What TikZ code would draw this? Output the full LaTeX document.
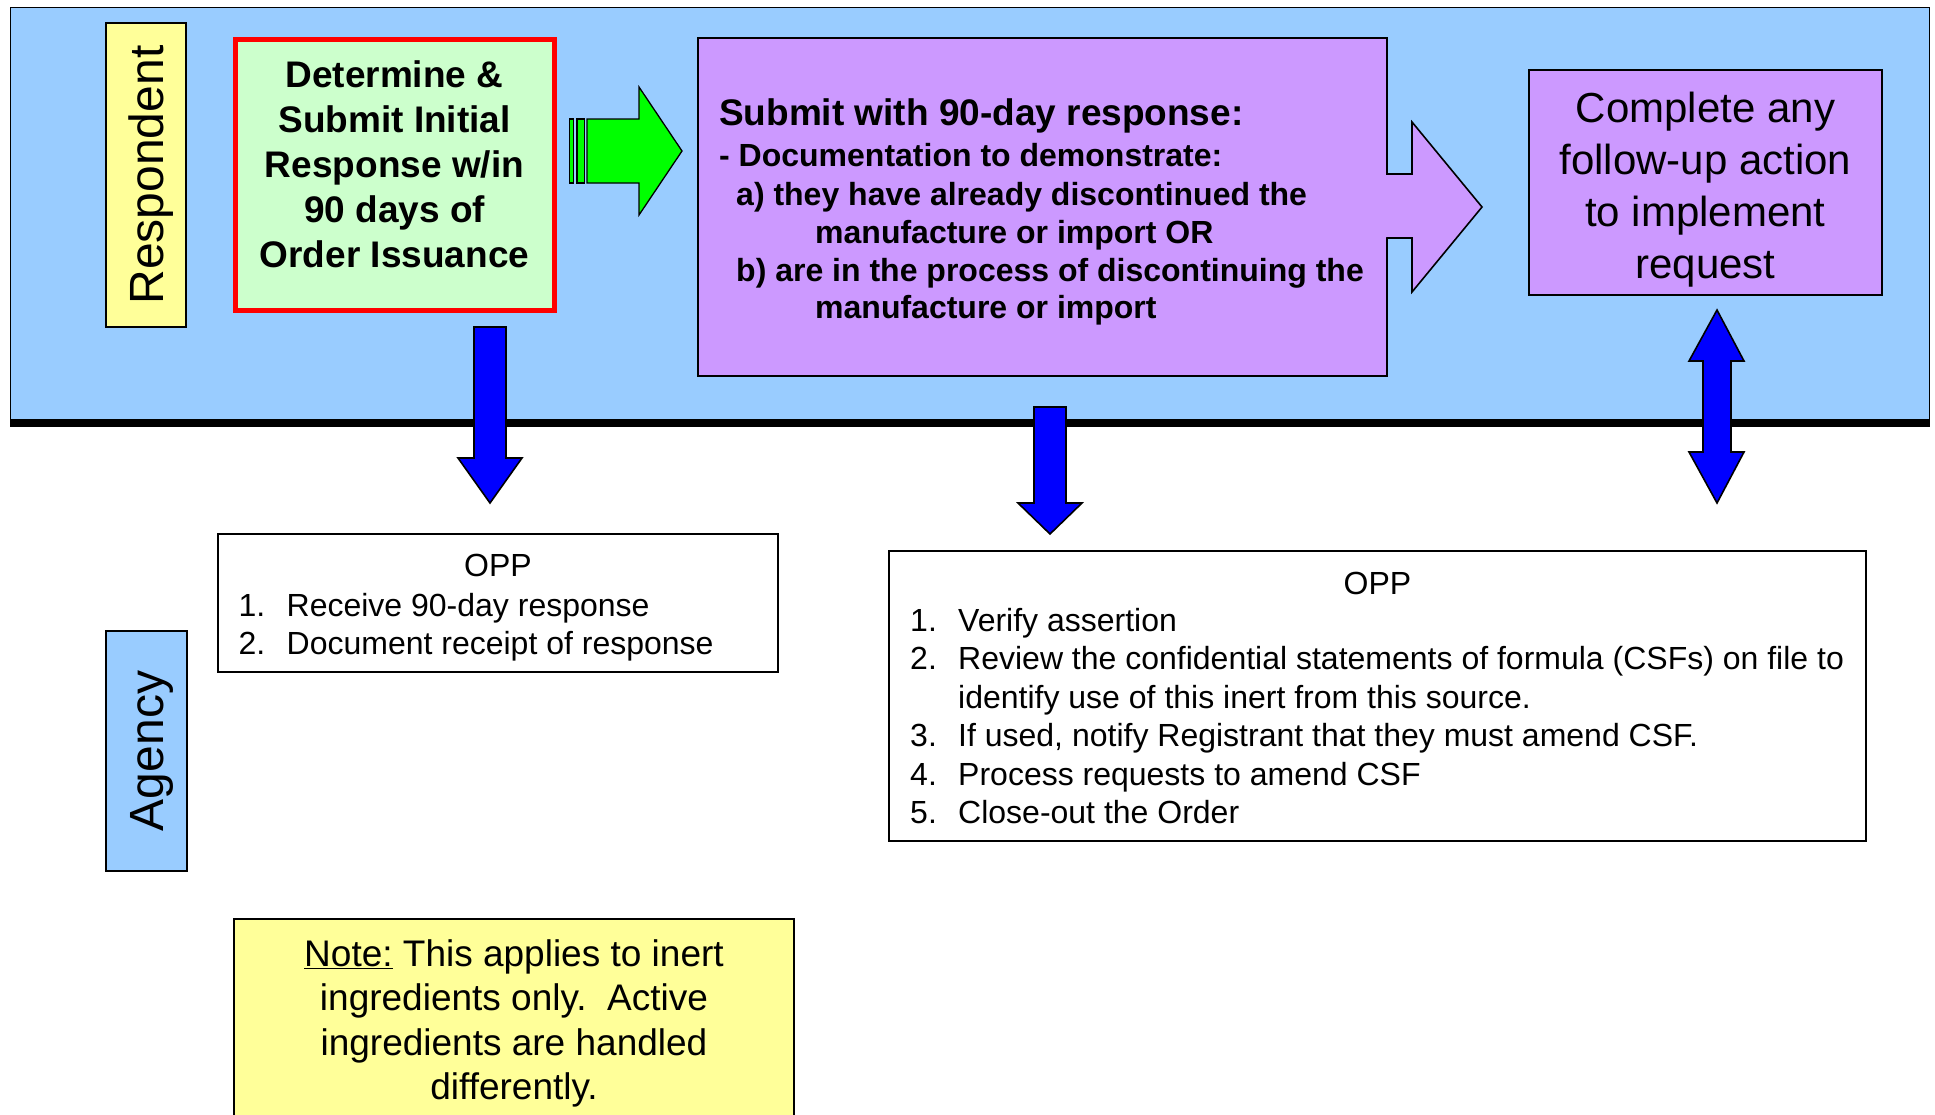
\documentclass[tikz,border=0pt]{standalone}
\usepackage{fontspec}
\setmainfont{Liberation Sans}
\definecolor{bandblue}{HTML}{99CCFF}
\definecolor{lyellow}{HTML}{FFFF99}
\definecolor{lgreen}{HTML}{CCFFCC}
\definecolor{brgreen}{HTML}{00FF00}
\definecolor{lpurple}{HTML}{CC99FF}
\definecolor{pblue}{HTML}{0000FF}
\begin{document}
\begin{tikzpicture}[x=1pt,y=-1pt,
  boxstyle/.style={draw=black, line width=1.6pt, inner sep=0pt, outer sep=0pt},
  outl/.style={draw=black, line width=1.6pt, line join=miter},
  bluearrow/.style={outl, fill=pblue},
  sz32/.style={font=\fontsize{32}{38}\selectfont, inner sep=0pt},
  sz32b/.style={font=\fontsize{32}{38}\selectfont\bfseries, inner sep=0pt},
]
\useasboundingbox (0,0) rectangle (1935,1114);
\fill[white] (0,0) rectangle (1935,1114);

% Respondent band
\node[draw=black, line width=1pt, fill=bandblue, inner sep=0pt, minimum width=1919pt, minimum height=412pt] (band) at (970,213) {};
\fill[black] (10,419) rectangle (1930,427);

% Lane labels
\node[boxstyle, fill=lyellow, minimum width=80pt, minimum height=304pt] (resp) at (146,175) {};
\node[rotate=90, anchor=base, inner sep=0pt, font=\fontsize{48}{56}\selectfont] (resptxt) at (163,175) {Respondent};

\node[boxstyle, fill=bandblue, minimum width=81pt, minimum height=240pt] (agency) at (146.5,751) {};
\node[rotate=90, anchor=base, inner sep=0pt, font=\fontsize{48}{56}\selectfont] (agencytxt) at (163.5,751) {Agency};

% Green box
\node[draw=red, line width=5pt, fill=lgreen, inner sep=0pt, minimum width=319pt, minimum height=271pt] (green) at (394.5,175) {};
\node[anchor=base, inner sep=0pt] (greentxt) at (394.5,87.6)
  {\fontsize{37}{45}\selectfont\bfseries\begin{tabular}[t]{@{}c@{}}Determine \&\\Submit Initial\\Response w/in\\90 days of\\Order Issuance\end{tabular}};

% Green arrow
\draw[outl, line width=1.3pt, fill=brgreen] (569.5,119) rectangle (573.5,183);
\draw[outl, line width=1.3pt, fill=brgreen] (577,119) rectangle (584.5,183);
\draw[outl, line width=1.3pt, fill=brgreen] (587,119) -- (639,119) -- (639,87) -- (682,151) -- (639,215) -- (639,183) -- (587,183) -- cycle;

% Purple box
\node[boxstyle, fill=lpurple, minimum width=689pt, minimum height=338pt] (purple) at (1042.5,207) {};
\fill[lpurple] (1384,175) -- (1412,175) -- (1412,122) -- (1482,207) -- (1412,292) -- (1412,237) -- (1384,237) -- cycle;
\draw[outl] (purple.east |- 0,174) -- (1412,174) -- (1412,122) -- (1482,207) -- (1412,292) -- (1412,238) -- (purple.east |- 0,238);

\node[anchor=base west, inner sep=0pt, font=\fontsize{37}{45}\selectfont\bfseries] (p1) at (719,125.5) {Submit with 90-day response:};
\node[anchor=base west, sz32b] (p2) at (719,166) {- Documentation to demonstrate:};
\node[anchor=base west, sz32b] (p3) at (736,205.5) {a) they have already discontinued the};
\node[anchor=base west, sz32b] (p4) at (815,243.5) {manufacture or import OR};
\node[anchor=base west, sz32b] (p5) at (736,281) {b) are in the process of discontinuing the};
\node[anchor=base west, sz32b] (p6) at (815,318.5) {manufacture or import};

% Complete box
\node[boxstyle, fill=lpurple, minimum width=353pt, minimum height=225pt] (complete) at (1705.5,182.5) {};
\node[anchor=base, inner sep=0pt] (completetxt) at (1705.5,122)
  {\fontsize{42}{52}\selectfont\begin{tabular}[t]{@{}c@{}}Complete any\\follow-up action\\to implement\\request\end{tabular}};

% OPP box 1
\node[boxstyle, fill=white, minimum width=560pt, minimum height=138pt] (opp1) at (498,603) {};
\node[anchor=base, sz32] (opp1title) at (498,576) {OPP};
\node[anchor=base west, inner sep=0pt] (opp1list) at (238.5,616)
  {\fontsize{32}{38}\selectfont\begin{tabular}[t]{@{}l@{}}\makebox[48pt][l]{1.}Receive 90-day response\\\makebox[48pt][l]{2.}Document receipt of response\end{tabular}};

% OPP box 2
\node[boxstyle, fill=white, minimum width=977pt, minimum height=290pt] (opp2) at (1377.5,696) {};
\node[anchor=base, sz32] (opp2title) at (1377.5,594) {OPP};
\node[anchor=base west, inner sep=0pt] (opp2list) at (910,631)
  {\fontsize{32}{38.5}\selectfont\begin{tabular}[t]{@{}l@{}}\makebox[48pt][l]{1.}Verify assertion\\
  \makebox[48pt][l]{2.}Review the confidential statements of formula (CSFs) on file to\\
  \makebox[48pt][l]{}identify use of this inert from this source.\\
  \makebox[48pt][l]{3.}If used, notify Registrant that they must amend CSF.\\
  \makebox[48pt][l]{4.}Process requests to amend CSF\\
  \makebox[48pt][l]{5.}Close-out the Order\end{tabular}};

% Note box
\node[boxstyle, fill=lyellow, minimum width=560pt, minimum height=240pt] (note) at (514,1039) {};
\node[anchor=base, inner sep=0pt] (notetxt) at (514,966)
  {\fontsize{37}{44.5}\selectfont\begin{tabular}[t]{@{}c@{}}\underline{Note:} This applies to inert\\ingredients only.\ \ Active\\ingredients are handled\\differently.\end{tabular}};

% Blue arrows
\draw[bluearrow] (474,327) -- (506,327) -- (506,458) -- (522,458) -- (490,503) -- (458,458) -- (474,458) -- cycle;
\draw[bluearrow] (1034,407) -- (1066,407) -- (1066,503) -- (1082,503) -- (1050,534) -- (1018,503) -- (1034,503) -- cycle;
\draw[bluearrow] (1717,310) -- (1744,361) -- (1731,361) -- (1731,452) -- (1744,452) -- (1717,503) -- (1689,452) -- (1703,452) -- (1703,361) -- (1689,361) -- cycle;
\end{tikzpicture}
\end{document}
